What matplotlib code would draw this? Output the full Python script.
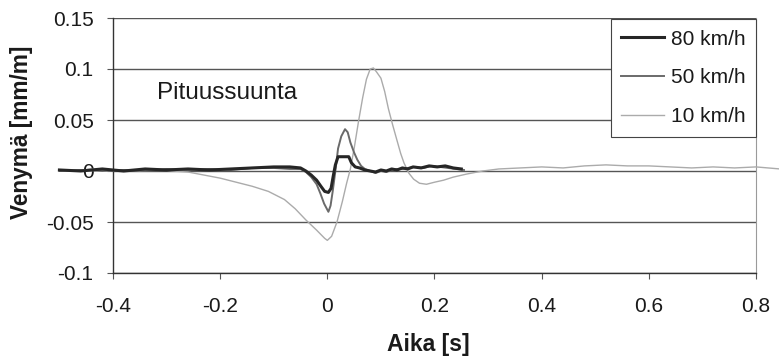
import matplotlib
matplotlib.use("Agg")
import matplotlib.pyplot as plt

plt.rcParams['font.family'] = ['Liberation Sans', 'DejaVu Sans']

# ---- data ----
series_names = ["80 km/h", "50 km/h", "10 km/h"]

t80 = [-0.50, -0.46, -0.42, -0.38, -0.34, -0.30, -0.26, -0.22, -0.18, -0.14, -0.10, -0.07,
       -0.05, -0.04, -0.03, -0.02, -0.012, -0.005, 0.002, 0.007, 0.011, 0.015, 0.020, 0.040,
       0.045, 0.052, 0.060, 0.070, 0.080, 0.090, 0.100, 0.110, 0.120, 0.130, 0.140, 0.150,
       0.160, 0.175, 0.190, 0.205, 0.220, 0.235, 0.250]
v80 = [0.001, 0.000, 0.002, 0.000, 0.002, 0.001, 0.002, 0.001, 0.002, 0.003, 0.004, 0.004,
       0.003, 0.000, -0.004, -0.009, -0.015, -0.020, -0.021, -0.017, -0.005, 0.006, 0.014, 0.014,
       0.008, 0.004, 0.003, 0.001, 0.000, -0.001, 0.001, 0.000, 0.002, 0.001, 0.003, 0.002,
       0.004, 0.003, 0.005, 0.004, 0.005, 0.003, 0.002]

t50 = [-0.50, -0.46, -0.42, -0.38, -0.34, -0.30, -0.26, -0.22, -0.18, -0.14, -0.10, -0.07,
       -0.05, -0.04, -0.03, -0.02, -0.013, -0.006, 0.002, 0.006, 0.010, 0.015, 0.020, 0.026,
       0.033, 0.038, 0.043, 0.050, 0.056, 0.063, 0.070, 0.080, 0.090, 0.100, 0.110, 0.120,
       0.130, 0.140, 0.150, 0.165, 0.180, 0.195, 0.210, 0.225, 0.240, 0.255]
v50 = [0.000, 0.001, 0.000, 0.001, 0.000, 0.002, 0.001, 0.002, 0.001, 0.003, 0.003, 0.002,
       0.002, -0.001, -0.006, -0.013, -0.022, -0.032, -0.040, -0.034, -0.020, 0.000, 0.022, 0.034,
       0.041, 0.038, 0.028, 0.018, 0.011, 0.005, 0.002, 0.000, -0.002, 0.000, -0.001, 0.001,
       0.002, 0.002, 0.003, 0.004, 0.003, 0.005, 0.004, 0.003, 0.002, 0.001]

t10 = [-0.50, -0.47, -0.44, -0.41, -0.38, -0.35, -0.32, -0.29, -0.26, -0.23, -0.20, -0.17,
       -0.14, -0.11, -0.08, -0.06, -0.04, -0.02, -0.005, 0.000, 0.008, 0.018, 0.028, 0.036,
       0.043, 0.050, 0.058, 0.066, 0.073, 0.080, 0.086, 0.092, 0.100, 0.107, 0.114, 0.122,
       0.130, 0.137, 0.143, 0.152, 0.161, 0.172, 0.185, 0.200, 0.217, 0.235, 0.26, 0.29,
       0.32, 0.36, 0.40, 0.44, 0.48, 0.52, 0.56, 0.60, 0.64, 0.68, 0.72, 0.76, 0.80, 0.845]
v10 = [0.001, 0.000, 0.002, 0.000, 0.001, 0.000, 0.002, 0.000, -0.001, -0.004, -0.007, -0.011,
       -0.015, -0.020, -0.028, -0.037, -0.048, -0.058, -0.066, -0.068, -0.064, -0.050, -0.030, -0.012,
       0.002, 0.022, 0.048, 0.072, 0.090, 0.100, 0.101, 0.097, 0.091, 0.078, 0.061, 0.045,
       0.030, 0.017, 0.008, -0.002, -0.008, -0.012, -0.013, -0.011, -0.009, -0.006, -0.003, 0.000,
       0.002, 0.003, 0.004, 0.003, 0.005, 0.006, 0.005, 0.005, 0.004, 0.003, 0.004, 0.003, 0.004, 0.002]

x_ticks = [-0.4, -0.2, 0, 0.2, 0.4, 0.6, 0.8]
x_tick_labels = ["-0.4", "-0.2", "0", "0.2", "0.4", "0.6", "0.8"]
y_ticks = [-0.1, -0.05, 0, 0.05, 0.1, 0.15]
y_tick_labels = ["-0.1", "-0.05", "0", "0.05", "0.1", "0.15"]

title_text = "Pituussuunta"
x_label = "Aika [s]"
y_label = "Venymä [mm/m]"

# ---- figure ----
fig = plt.figure(figsize=(7.79, 3.56), dpi=100)
ax = fig.add_axes([113/779, 1-273/356, (756-113)/779, (273-18)/356])

txt_col = '#1a1a1a'

l10, = ax.plot(t10, v10, color='#ababab', lw=1.0, clip_on=False, zorder=3)
l50, = ax.plot(t50, v50, color='#6a6a6a', lw=1.4, clip_on=False, zorder=4)
l80, = ax.plot(t80, v80, color='#262626', lw=2.2, clip_on=False, zorder=5)

ax.set_xlim(-0.4, 0.8)
ax.set_ylim(-0.1, 0.15)
ax.set_xticks(x_ticks)
ax.set_xticklabels(x_tick_labels)
ax.set_yticks(y_ticks)
ax.set_yticklabels(y_tick_labels)

ax.yaxis.grid(True, color='#555555', lw=1.0)
ax.set_axisbelow(True)

ax.spines['top'].set_visible(False)
ax.spines['right'].set_color('#9a9a9a')
ax.spines['right'].set_linewidth(0.8)
for s in ('left', 'bottom'):
    ax.spines[s].set_color('#333333')
    ax.spines[s].set_linewidth(1.0)

ax.tick_params(axis='both', direction='out', length=4, width=0.8, color='#555555',
               labelsize=15, labelcolor=txt_col)
ax.tick_params(axis='y', pad=10)
ax.tick_params(axis='x', pad=13)

ax.set_xlabel(x_label, fontsize=16.5, fontweight='bold', color=txt_col)
ax.xaxis.set_label_coords(0.49, -0.235)
ax.set_ylabel(y_label, fontsize=16.3, fontweight='bold', color=txt_col)
ax.yaxis.set_label_coords(-0.124, 0.553)

ax.text(0.068, 0.682, title_text, transform=ax.transAxes, fontsize=17.5,
        color=txt_col, va='baseline', ha='left')

leg = ax.legend([l80, l50, l10], series_names, loc='upper right',
                bbox_to_anchor=(1.0, 0.995), fontsize=15, frameon=True, fancybox=False,
                edgecolor='#444444', framealpha=1, borderaxespad=0, borderpad=0.5,
                handlelength=2.05, handletextpad=0.35, labelspacing=0.95)
leg.get_frame().set_linewidth(0.8)
for t in leg.get_texts():
    t.set_color(txt_col)

fig.savefig('out.png', dpi=100)
